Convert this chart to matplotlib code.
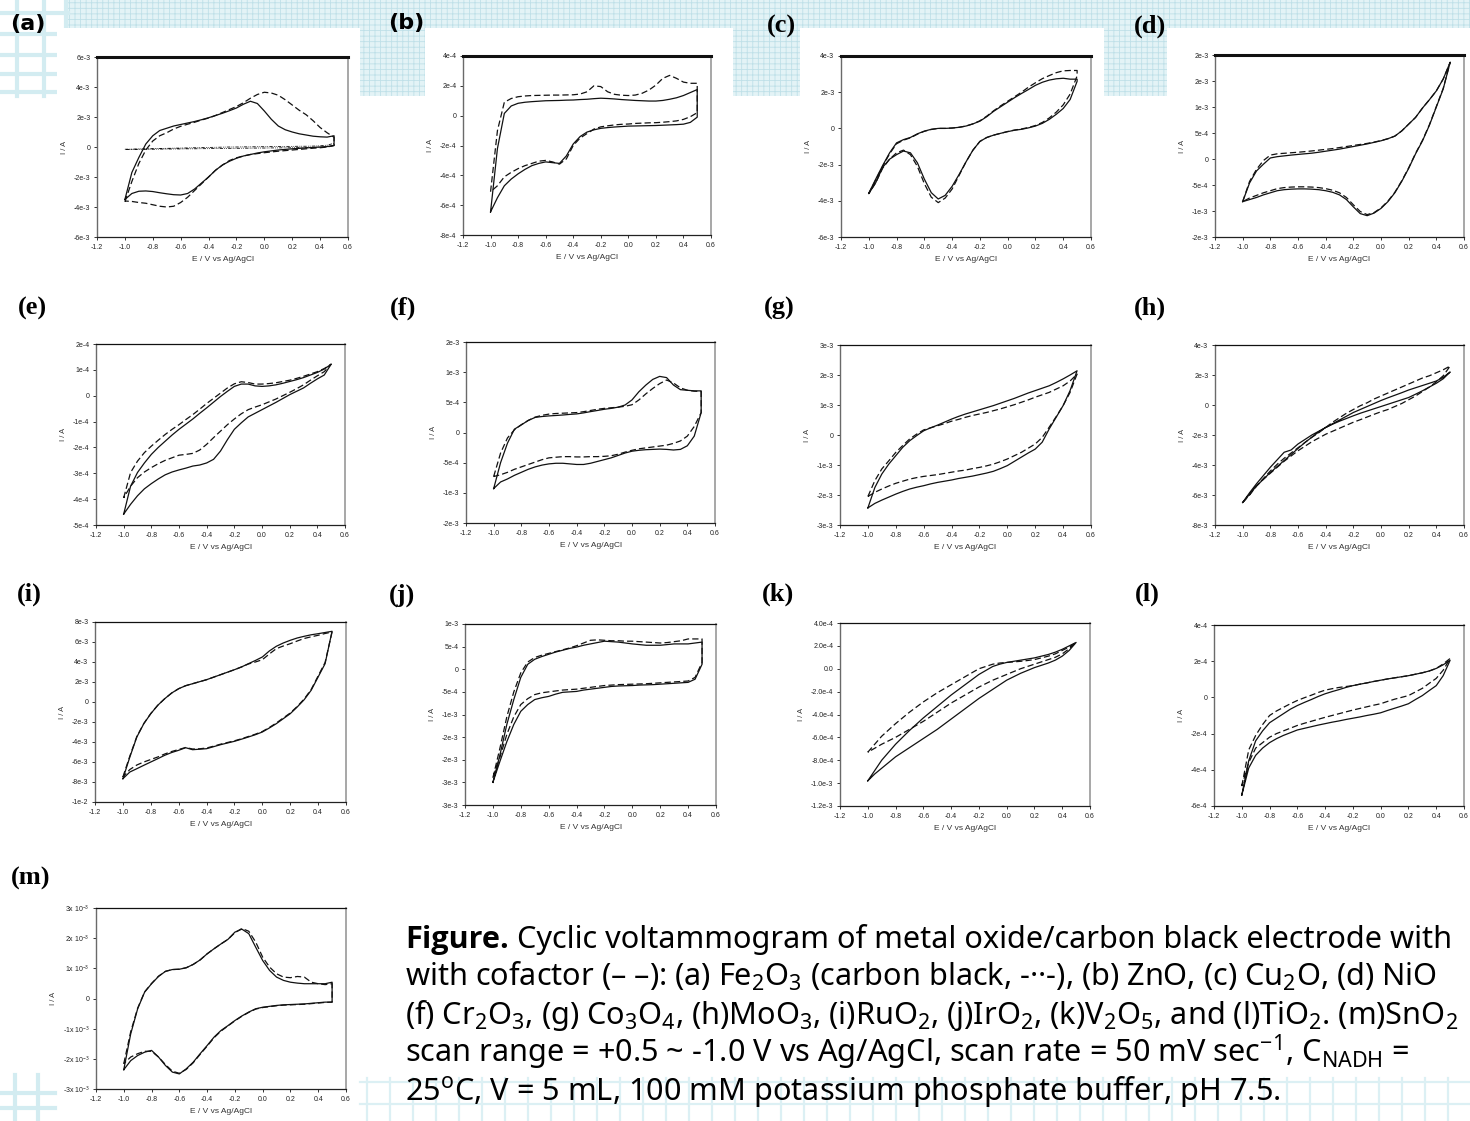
import matplotlib
matplotlib.use('Agg')
import matplotlib.pyplot as plt
from matplotlib.patches import Rectangle

plt.rcParams['font.family'] = ['Liberation Sans', 'DejaVu Sans']
plt.rcParams['mathtext.fontset'] = 'custom'
plt.rcParams['mathtext.rm'] = 'Noto Sans'
plt.rcParams['mathtext.it'] = 'Noto Sans:italic'
plt.rcParams['mathtext.bf'] = 'Noto Sans:bold'
plt.rcParams['hatch.linewidth'] = 0.6

W, H = 1470, 1121

# potential grid (V vs Ag/AgCl), forward scan -1.0 -> 0.5, reverse read on same grid
E = [-1.0, -0.95, -0.9, -0.85, -0.8, -0.75, -0.7, -0.65, -0.6, -0.55, -0.5,
     -0.45, -0.4, -0.35, -0.3, -0.25, -0.2, -0.15, -0.1, -0.05, 0.0,
     0.05, 0.1, 0.15, 0.2, 0.25, 0.3, 0.35, 0.4, 0.45, 0.5]
X_TICKS = [-1.2, -1.0, -0.8, -0.6, -0.4, -0.2, 0.0, 0.2, 0.4, 0.6]
X_LABELS = ['-1.2', '-1.0', '-0.8', '-0.6', '-0.4', '-0.2', '0.0', '0.2', '0.4', '0.6']

# (a) Fe2O3, units 1e-3 A
A_SOLID_FWD = [-3.5, -1.7, -0.7, 0.2, 0.75, 1.1, 1.25, 1.4, 1.5, 1.6, 1.7, 1.82, 1.95, 2.1, 2.25, 2.42,
               2.6, 2.85, 3.05, 2.9, 2.4, 1.85, 1.4, 1.15, 1.0, 0.88, 0.8, 0.72, 0.68, 0.66, 0.75]
A_SOLID_REV = [-3.5, -3.1, -2.95, -2.93, -2.97, -3.05, -3.12, -3.18, -3.2, -3.1, -2.8, -2.4, -2.0, -1.55,
               -1.2, -0.95, -0.75, -0.6, -0.5, -0.4, -0.32, -0.26, -0.2, -0.16, -0.12, -0.09, -0.06,
               -0.03, 0.0, 0.03, 0.1]
A_DASH_FWD = [-3.65, -2.3, -1.1, -0.2, 0.4, 0.75, 0.95, 1.2, 1.38, 1.52, 1.65, 1.8, 1.93, 2.1, 2.3, 2.5,
              2.7, 2.95, 3.25, 3.5, 3.65, 3.6, 3.45, 3.15, 2.8, 2.45, 2.15, 1.75, 1.3, 0.95, 0.65]
A_DASH_REV = [-3.6, -3.63, -3.7, -3.75, -3.85, -3.95, -4.0, -3.95, -3.7, -3.35, -2.9, -2.45, -2.0, -1.55,
              -1.2, -0.9, -0.72, -0.6, -0.5, -0.44, -0.38, -0.33, -0.28, -0.24, -0.2, -0.16, -0.12,
              -0.08, -0.05, 0.0, 0.1]
A_CB_FWD = [-0.15, -0.14, -0.13, -0.12, -0.11, -0.1, -0.09, -0.08, -0.07, -0.06, -0.05, -0.04, -0.03,
            -0.02, -0.01, 0.0, 0.0, 0.01, 0.01, 0.02, 0.02, 0.03, 0.03, 0.04, 0.04, 0.05, 0.05, 0.06,
            0.08, 0.12, 0.25]
A_CB_REV = [-0.16, -0.16, -0.15, -0.15, -0.15, -0.14, -0.14, -0.13, -0.13, -0.12, -0.12, -0.11, -0.11,
            -0.1, -0.1, -0.09, -0.09, -0.08, -0.08, -0.07, -0.07, -0.06, -0.06, -0.05, -0.05, -0.04,
            -0.04, -0.03, -0.02, 0.0, 0.1]

# (b) ZnO, units 1e-4 A
B_SOLID_FWD = [-6.45, -2.2, 0.15, 0.65, 0.83, 0.9, 0.94, 0.97, 1.0, 1.01, 1.02, 1.04, 1.05, 1.08, 1.1,
               1.14, 1.17, 1.15, 1.12, 1.08, 1.05, 1.02, 1.0, 0.98, 0.98, 1.02, 1.1, 1.2, 1.35, 1.55, 1.75]
B_SOLID_REV = [-6.45, -5.5, -4.7, -4.25, -3.9, -3.6, -3.35, -3.2, -3.1, -3.15, -3.2, -2.7, -1.9, -1.4,
               -1.1, -0.95, -0.85, -0.8, -0.76, -0.73, -0.7, -0.69, -0.68, -0.67, -0.66, -0.64, -0.62,
               -0.6, -0.57, -0.45, -0.1]
B_DASH_FWD = [-5.1, -1.0, 0.9, 1.15, 1.27, 1.32, 1.35, 1.36, 1.37, 1.38, 1.38, 1.39, 1.4, 1.45, 1.6, 2.0,
              1.95, 1.6, 1.43, 1.37, 1.35, 1.38, 1.5, 1.72, 2.05, 2.5, 2.7, 2.5, 2.25, 2.17, 2.17]
B_DASH_REV = [-5.1, -4.7, -4.1, -3.8, -3.55, -3.35, -3.2, -3.05, -3.0, -3.1, -3.25, -2.9, -2.0, -1.5,
              -1.2, -0.9, -0.75, -0.68, -0.62, -0.58, -0.56, -0.52, -0.5, -0.48, -0.47, -0.44, -0.4,
              -0.35, -0.25, -0.07, 0.2]

# (c) Cu2O, units 1e-3 A
C_SOLID_FWD = [-3.58, -2.8, -2.05, -1.35, -0.8, -0.62, -0.5, -0.3, -0.15, -0.05, 0.0, 0.0, 0.02, 0.06,
               0.13, 0.25, 0.4, 0.65, 0.95, 1.2, 1.45, 1.7, 1.93, 2.15, 2.38, 2.55, 2.67, 2.74, 2.77,
               2.72, 2.72]
C_SOLID_REV = [-3.6, -3.0, -2.15, -1.7, -1.45, -1.25, -1.35, -1.9, -2.8, -3.55, -3.9, -3.7, -3.2, -2.55,
               -1.85, -1.2, -0.72, -0.5, -0.37, -0.27, -0.18, -0.1, -0.05, 0.03, 0.13, 0.28, 0.5, 0.78,
               1.1, 1.6, 2.6]
C_DASH_FWD = [-3.6, -2.85, -2.1, -1.4, -0.85, -0.65, -0.52, -0.32, -0.16, -0.06, 0.0, 0.0, 0.02, 0.06,
              0.13, 0.25, 0.42, 0.68, 0.98, 1.25, 1.5, 1.75, 2.0, 2.28, 2.52, 2.75, 2.92, 3.08, 3.18,
              3.2, 3.2]
C_DASH_REV = [-3.6, -3.0, -2.2, -1.7, -1.35, -1.2, -1.45, -2.1, -3.05, -3.8, -4.1, -3.85, -3.35, -2.6,
              -1.85, -1.2, -0.72, -0.5, -0.37, -0.27, -0.17, -0.09, -0.03, 0.05, 0.16, 0.33, 0.58, 0.9,
              1.3, 1.9, 2.9]

# (d) NiO, units 1e-4 A
D_SOLID_FWD = [-8.2, -4.6, -2.3, -1.0, 0.2, 0.45, 0.6, 0.75, 0.88, 1.0, 1.12, 1.3, 1.5, 1.7, 1.9, 2.15,
               2.4, 2.65, 2.9, 3.2, 3.5, 3.9, 4.4, 5.4, 6.7, 8.0, 9.8, 11.4, 13.1, 15.4, 18.6]
D_SOLID_REV = [-8.2, -7.8, -7.4, -6.9, -6.5, -6.1, -5.9, -5.8, -5.75, -5.75, -5.8, -5.9, -6.1, -6.4,
               -6.9, -7.8, -9.2, -10.5, -10.9, -10.4, -9.5, -8.2, -6.5, -4.3, -1.8, 1.0, 3.5, 6.5, 10.0,
               13.5, 18.6]
D_DASH_FWD = [-8.2, -4.3, -2.0, -0.3, 0.75, 1.0, 1.1, 1.2, 1.3, 1.42, 1.55, 1.7, 1.85, 2.0, 2.2, 2.4,
              2.6, 2.8, 3.0, 3.25, 3.55, 3.9, 4.4, 5.4, 6.7, 8.0, 9.8, 11.4, 13.1, 15.4, 18.6]
D_DASH_REV = [-8.2, -7.5, -7.0, -6.5, -6.1, -5.7, -5.5, -5.4, -5.35, -5.35, -5.4, -5.5, -5.7, -6.0,
              -6.5, -7.4, -8.8, -10.1, -10.7, -10.3, -9.4, -8.1, -6.4, -4.2, -1.7, 1.1, 3.6, 6.6, 10.1,
              13.6, 18.6]

# (e) units 1e-4 A
E_SOLID_FWD = [-4.58, -3.5, -2.97, -2.6, -2.27, -2.0, -1.76, -1.52, -1.3, -1.1, -0.9, -0.68, -0.47,
               -0.25, -0.03, 0.17, 0.36, 0.45, 0.45, 0.38, 0.36, 0.38, 0.42, 0.48, 0.55, 0.62, 0.7,
               0.8, 0.9, 1.03, 1.22]
E_SOLID_REV = [-4.58, -4.2, -3.87, -3.6, -3.4, -3.22, -3.06, -2.95, -2.87, -2.8, -2.72, -2.68, -2.6,
               -2.46, -2.14, -1.7, -1.3, -1.05, -0.82, -0.68, -0.54, -0.4, -0.26, -0.11, 0.04, 0.17,
               0.3, 0.48, 0.65, 0.8, 1.22]
E_DASH_FWD = [-3.95, -2.97, -2.53, -2.2, -1.95, -1.72, -1.5, -1.3, -1.12, -0.92, -0.73, -0.52, -0.3,
              -0.1, 0.1, 0.3, 0.46, 0.54, 0.51, 0.45, 0.45, 0.47, 0.5, 0.55, 0.6, 0.67, 0.75, 0.84,
              0.93, 1.05, 1.22]
E_DASH_REV = [-3.95, -3.5, -3.17, -2.95, -2.78, -2.63, -2.5, -2.4, -2.3, -2.27, -2.23, -2.1, -1.88,
              -1.62, -1.37, -1.12, -0.9, -0.7, -0.54, -0.44, -0.35, -0.24, -0.13, 0.0, 0.13, 0.27,
              0.42, 0.6, 0.77, 0.93, 1.22]

# (f) Cr2O3, units 1e-4 A
F_SOLID_FWD = [-9.3, -5.0, -1.76, 0.55, 1.26, 2.0, 2.5, 2.65, 2.75, 2.82, 2.9, 3.0, 3.08, 3.25, 3.46,
               3.65, 3.85, 4.0, 4.2, 4.56, 5.4, 6.76, 7.86, 8.8, 9.3, 9.1, 7.86, 7.1, 7.0, 6.9, 6.9]
F_SOLID_REV = [-9.3, -8.2, -7.7, -7.1, -6.6, -6.1, -5.7, -5.4, -5.2, -5.1, -5.1, -5.2, -5.3, -5.3, -5.1,
               -4.8, -4.5, -4.2, -3.8, -3.4, -3.1, -2.95, -2.85, -2.8, -2.75, -2.8, -2.9, -2.8, -2.2,
               -0.6, 3.3]
F_DASH_FWD = [-7.3, -3.4, -0.9, 0.45, 1.3, 2.0, 2.55, 2.85, 3.05, 3.15, 3.2, 3.25, 3.3, 3.45, 3.65,
              3.85, 4.0, 4.1, 4.2, 4.35, 4.6, 5.4, 6.4, 7.3, 8.1, 8.7, 8.2, 7.4, 7.0, 6.85, 6.8]
F_DASH_REV = [-7.3, -7.0, -6.6, -6.1, -5.7, -5.3, -4.9, -4.5, -4.2, -4.1, -4.0, -4.0, -4.05, -4.05,
              -4.0, -4.0, -3.95, -3.85, -3.6, -3.25, -2.95, -2.7, -2.55, -2.4, -2.25, -2.1, -1.8,
              -1.4, -0.6, 1.0, 3.3]

# (g) Co3O4, units 1e-3 A
G_SOLID_FWD = [-2.43, -1.75, -1.3, -0.97, -0.69, -0.41, -0.19, -0.02, 0.14, 0.24, 0.33, 0.43, 0.53,
               0.62, 0.7, 0.77, 0.84, 0.91, 0.98, 1.06, 1.14, 1.22, 1.31, 1.4, 1.48, 1.56, 1.64, 1.75,
               1.87, 2.0, 2.14]
G_SOLID_REV = [-2.43, -2.28, -2.17, -2.07, -1.97, -1.88, -1.8, -1.74, -1.69, -1.63, -1.58, -1.54, -1.5,
               -1.45, -1.41, -1.37, -1.32, -1.27, -1.21, -1.12, -1.02, -0.88, -0.74, -0.6, -0.47,
               -0.24, 0.2, 0.59, 0.98, 1.48, 2.14]
G_DASH_FWD = [-2.05, -1.52, -1.13, -0.86, -0.58, -0.35, -0.13, 0.03, 0.17, 0.24, 0.31, 0.38, 0.46,
              0.52, 0.59, 0.65, 0.7, 0.75, 0.81, 0.87, 0.94, 1.01, 1.09, 1.17, 1.26, 1.34, 1.42, 1.53,
              1.64, 1.8, 2.03]
G_DASH_REV = [-2.05, -1.91, -1.8, -1.7, -1.61, -1.54, -1.47, -1.42, -1.38, -1.35, -1.32, -1.28, -1.24,
              -1.2, -1.17, -1.12, -1.08, -1.03, -0.97, -0.89, -0.8, -0.69, -0.58, -0.44, -0.3, -0.08,
              0.26, 0.61, 0.98, 1.42, 2.03]

# (h) MoO3, units 1e-3 A
H_SOLID_FWD = [-6.5, -5.85, -5.25, -4.7, -4.15, -3.65, -3.15, -3.0, -2.6, -2.3, -2.0, -1.75, -1.5, -1.25,
               -1.0, -0.75, -0.5, -0.3, -0.1, 0.1, 0.3, 0.48, 0.65, 0.82, 1.0, 1.15, 1.3, 1.45, 1.6,
               1.85, 2.2]
H_SOLID_REV = [-6.5, -5.95, -5.4, -4.95, -4.5, -4.1, -3.7, -3.3, -2.9, -2.5, -2.15, -1.8, -1.5, -1.28,
               -1.08, -0.9, -0.72, -0.55, -0.4, -0.25, -0.1, 0.05, 0.2, 0.35, 0.5, 0.72, 0.95, 1.2,
               1.45, 1.75, 2.2]
H_DASH_FWD = [-6.5, -6.0, -5.4, -4.9, -4.4, -3.95, -3.55, -3.2, -2.85, -2.5, -2.15, -1.85, -1.5, -1.15,
              -0.85, -0.55, -0.3, -0.05, 0.15, 0.4, 0.6, 0.8, 1.0, 1.2, 1.4, 1.6, 1.8, 1.95, 2.15,
              2.35, 2.6]
H_DASH_REV = [-6.5, -5.95, -5.4, -4.95, -4.55, -4.15, -3.75, -3.4, -3.05, -2.75, -2.45, -2.2, -1.95,
              -1.75, -1.55, -1.35, -1.15, -0.98, -0.8, -0.62, -0.45, -0.3, -0.1, 0.1, 0.35, 0.6, 0.9,
              1.2, 1.55, 1.95, 2.6]

# (i) RuO2, units 1e-3 A
I_SOLID_FWD = [-7.67, -5.5, -3.5, -2.17, -1.17, -0.33, 0.33, 0.9, 1.33, 1.63, 1.83, 2.03, 2.23, 2.48,
               2.73, 2.98, 3.23, 3.5, 3.83, 4.15, 4.5, 5.1, 5.57, 5.9, 6.17, 6.4, 6.57, 6.72, 6.83,
               6.95, 7.07]
I_SOLID_REV = [-7.67, -7.0, -6.67, -6.33, -6.0, -5.67, -5.33, -5.05, -4.83, -4.57, -4.77, -4.72, -4.67,
               -4.47, -4.27, -4.1, -3.93, -3.72, -3.5, -3.27, -3.0, -2.6, -2.17, -1.67, -1.17, -0.5,
               0.23, 1.17, 2.5, 3.83, 7.07]
I_DASH_FWD = [-7.5, -5.4, -3.45, -2.15, -1.15, -0.33, 0.33, 0.9, 1.33, 1.63, 1.83, 2.03, 2.23, 2.48,
              2.73, 2.98, 3.23, 3.5, 3.8, 4.0, 4.23, 4.8, 5.33, 5.6, 5.83, 6.1, 6.35, 6.52, 6.67,
              6.85, 7.0]
I_DASH_REV = [-7.5, -6.75, -6.3, -6.0, -5.75, -5.5, -5.2, -4.95, -4.75, -4.55, -4.7, -4.68, -4.6,
              -4.42, -4.22, -4.05, -3.88, -3.68, -3.45, -3.22, -2.95, -2.55, -2.1, -1.6, -1.1, -0.45,
              0.3, 1.25, 2.6, 3.95, 7.0]

# (j) IrO2, units 1e-4 A
J_SOLID_FWD = [-25, -19, -12.2, -6.7, -1.8, 1.1, 2.2, 2.8, 3.3, 3.8, 4.2, 4.6, 4.9, 5.3, 5.6, 5.9, 6.2,
               6.1, 6.0, 5.8, 5.6, 5.45, 5.3, 5.3, 5.3, 5.45, 5.6, 5.6, 5.6, 5.8, 6.0]
J_SOLID_REV = [-25, -20.4, -16, -12.2, -9.3, -7.8, -6.7, -6.3, -6.0, -5.5, -5.1, -5.0, -4.9, -4.6, -4.4,
               -4.2, -4.0, -3.8, -3.7, -3.65, -3.6, -3.5, -3.45, -3.4, -3.3, -3.2, -3.1, -3.0, -2.9,
               -2.2, 1.1]
J_DASH_FWD = [-24, -17.5, -10.5, -5.0, -0.8, 1.6, 2.6, 3.1, 3.5, 3.9, 4.3, 4.7, 5.2, 5.8, 6.4, 6.5, 6.4,
              6.3, 6.3, 6.2, 6.2, 6.1, 6.0, 5.9, 5.8, 5.9, 6.1, 6.3, 6.7, 6.7, 6.7]
J_DASH_REV = [-24, -19.5, -14.4, -10.5, -7.8, -6.5, -5.6, -5.2, -5.0, -4.8, -4.6, -4.5, -4.4, -4.2, -4.0,
              -3.8, -3.6, -3.5, -3.4, -3.35, -3.3, -3.25, -3.2, -3.1, -3.0, -2.9, -2.8, -2.7, -2.6,
              -1.8, 1.5]

# (k) V2O5, units 1e-4 A
K_SOLID_FWD = [-9.8, -8.9, -8.0, -7.3, -6.6, -6.0, -5.4, -4.85, -4.3, -3.8, -3.3, -2.8, -2.3, -1.85,
               -1.4, -0.95, -0.5, -0.15, 0.2, 0.4, 0.55, 0.65, 0.75, 0.85, 0.95, 1.1, 1.25, 1.45, 1.7,
               2.0, 2.3]
K_SOLID_REV = [-9.8, -9.2, -8.7, -8.2, -7.7, -7.3, -6.9, -6.5, -6.1, -5.7, -5.3, -4.85, -4.4, -3.95,
               -3.5, -3.05, -2.6, -2.2, -1.8, -1.4, -1.0, -0.7, -0.4, -0.15, 0.1, 0.3, 0.5, 0.75, 1.1,
               1.6, 2.3]
K_DASH_FWD = [-7.3, -6.6, -5.9, -5.35, -4.8, -4.3, -3.8, -3.35, -2.9, -2.5, -2.1, -1.75, -1.4, -1.05,
              -0.7, -0.35, 0.0, 0.2, 0.4, 0.5, 0.55, 0.6, 0.65, 0.72, 0.8, 0.95, 1.1, 1.3, 1.6, 1.9, 2.3]
K_DASH_REV = [-7.3, -6.95, -6.6, -6.3, -6.0, -5.65, -5.3, -4.95, -4.6, -4.2, -3.8, -3.4, -3.0, -2.65,
              -2.3, -1.95, -1.6, -1.3, -1.0, -0.75, -0.5, -0.25, 0.0, 0.2, 0.4, 0.6, 0.8, 1.0, 1.3,
              1.75, 2.3]

# (l) TiO2, units 1e-4 A
L_SOLID_FWD = [-5.4, -3.5, -2.4, -1.85, -1.4, -1.15, -0.9, -0.65, -0.45, -0.28, -0.12, 0.05, 0.2, 0.32,
               0.43, 0.55, 0.65, 0.73, 0.8, 0.88, 0.95, 1.02, 1.08, 1.14, 1.2, 1.28, 1.36, 1.46, 1.6,
               1.8, 2.05]
L_SOLID_REV = [-5.4, -3.9, -3.2, -2.8, -2.5, -2.28, -2.1, -1.95, -1.8, -1.71, -1.62, -1.53, -1.45,
               -1.37, -1.3, -1.22, -1.15, -1.08, -1.0, -0.93, -0.85, -0.72, -0.6, -0.48, -0.35, -0.12,
               0.1, 0.38, 0.65, 1.2, 2.05]
L_DASH_FWD = [-4.9, -2.9, -2.1, -1.5, -1.0, -0.75, -0.55, -0.35, -0.17, -0.02, 0.12, 0.27, 0.4, 0.48,
              0.55, 0.6, 0.65, 0.73, 0.8, 0.88, 0.95, 1.02, 1.08, 1.14, 1.2, 1.28, 1.36, 1.46, 1.6,
              1.85, 2.15]
L_DASH_REV = [-4.9, -3.6, -2.8, -2.5, -2.2, -2.0, -1.85, -1.7, -1.55, -1.43, -1.32, -1.21, -1.1, -1.0,
              -0.9, -0.8, -0.7, -0.61, -0.52, -0.43, -0.35, -0.22, -0.1, 0.0, 0.1, 0.3, 0.5, 0.78,
              1.05, 1.5, 2.15]

# (m) SnO2, units 1e-3 A
M_SOLID_FWD = [-2.36, -1.17, -0.34, 0.21, 0.49, 0.73, 0.9, 0.96, 0.97, 1.02, 1.13, 1.28, 1.48, 1.65,
               1.81, 1.96, 2.2, 2.3, 2.15, 1.7, 1.26, 0.93, 0.71, 0.6, 0.54, 0.51, 0.49, 0.49, 0.49,
               0.49, 0.54]
M_SOLID_REV = [-2.36, -2.06, -1.89, -1.78, -1.72, -1.94, -2.22, -2.44, -2.5, -2.33, -2.11, -1.83, -1.56,
               -1.28, -1.06, -0.9, -0.73, -0.58, -0.45, -0.34, -0.29, -0.26, -0.23, -0.21, -0.2,
               -0.19, -0.18, -0.16, -0.14, -0.12, -0.12]
M_DASH_FWD = [-2.16, -1.1, -0.32, 0.22, 0.5, 0.74, 0.9, 0.96, 0.97, 1.02, 1.13, 1.28, 1.48, 1.65, 1.81,
              1.96, 2.18, 2.32, 2.23, 1.87, 1.37, 1.04, 0.82, 0.71, 0.69, 0.73, 0.71, 0.54, 0.49,
              0.46, 0.49]
M_DASH_REV = [-2.16, -1.94, -1.83, -1.75, -1.75, -1.94, -2.19, -2.41, -2.48, -2.35, -2.13, -1.85,
              -1.58, -1.3, -1.08, -0.91, -0.74, -0.59, -0.46, -0.35, -0.3, -0.27, -0.24, -0.22, -0.21,
              -0.2, -0.19, -0.17, -0.15, -0.13, -0.12]

# y ticks (in panel units) and the labels printed on them
A_YT = [-6, -4, -2, 0, 2, 4, 6]
A_YL = ['-6e-3', '-4e-3', '-2e-3', '0', '2e-3', '4e-3', '6e-3']
B_YT = [-8, -6, -4, -2, 0, 2, 4]
B_YL = ['-8e-4', '-6e-4', '-4e-4', '-2e-4', '0', '2e-4', '4e-4']
C_YT = [-6, -4, -2, 0, 2, 4]
C_YL = ['-6e-3', '-4e-3', '-2e-3', '0', '2e-3', '4e-3']
D_YT = [-15, -10, -5, 0, 5, 10, 15, 20]
D_YL = ['-2e-3', '-1e-3', '-5e-4', '0', '5e-4', '1e-3', '2e-3', '2e-3']
E_YT = [-5, -4, -3, -2, -1, 0, 1, 2]
E_YL = ['-5e-4', '-4e-4', '-3e-4', '-2e-4', '-1e-4', '0', '1e-4', '2e-4']
F_YT = [-15, -10, -5, 0, 5, 10, 15]
F_YL = ['-2e-3', '-1e-3', '-5e-4', '0', '5e-4', '1e-3', '2e-3']
G_YT = [-3, -2, -1, 0, 1, 2, 3]
G_YL = ['-3e-3', '-2e-3', '-1e-3', '0', '1e-3', '2e-3', '3e-3']
H_YT = [-8, -6, -4, -2, 0, 2, 4]
H_YL = ['-8e-3', '-6e-3', '-4e-3', '-2e-3', '0', '2e-3', '4e-3']
I_YT = [-10, -8, -6, -4, -2, 0, 2, 4, 6, 8]
I_YL = ['-1e-2', '-8e-3', '-6e-3', '-4e-3', '-2e-3', '0', '2e-3', '4e-3', '6e-3', '8e-3']
J_YT = [-30, -25, -20, -15, -10, -5, 0, 5, 10]
J_YL = ['-3e-3', '-3e-3', '-2e-3', '-2e-3', '-1e-3', '-5e-4', '0', '5e-4', '1e-3']
K_YT = [-12, -10, -8, -6, -4, -2, 0, 2, 4]
K_YL = ['-1.2e-3', '-1.0e-3', '-8.0e-4', '-6.0e-4', '-4.0e-4', '-2.0e-4', '0.0', '2.0e-4', '4.0e-4']
L_YT = [-6, -4, -2, 0, 2, 4]
L_YL = ['-6e-4', '-4e-4', '-2e-4', '0', '2e-4', '4e-4']
M_YT = [-3, -2, -1, 0, 1, 2, 3]
M_YL = ['-3x 10$^{-3}$', '-2x 10$^{-3}$', '-1x 10$^{-3}$', '0',
        '1x 10$^{-3}$', '2x 10$^{-3}$', '3x 10$^{-3}$']

# letter, pixel box (left, top, right, bottom), ticks, labels, curves
PANELS = [
    ('a', (97, 57, 348, 237), A_YT, A_YL,
     [(A_SOLID_FWD, A_SOLID_REV, 'solid'), (A_DASH_FWD, A_DASH_REV, 'dash'), (A_CB_FWD, A_CB_REV, 'cb')]),
    ('b', (463, 56, 711, 235), B_YT, B_YL, [(B_SOLID_FWD, B_SOLID_REV, 'solid'), (B_DASH_FWD, B_DASH_REV, 'dash')]),
    ('c', (841, 56, 1091, 237), C_YT, C_YL, [(C_SOLID_FWD, C_SOLID_REV, 'solid'), (C_DASH_FWD, C_DASH_REV, 'dash')]),
    ('d', (1215, 55, 1464, 237), D_YT, D_YL, [(D_SOLID_FWD, D_SOLID_REV, 'solid'), (D_DASH_FWD, D_DASH_REV, 'dash')]),
    ('e', (96, 344, 345, 525), E_YT, E_YL, [(E_SOLID_FWD, E_SOLID_REV, 'solid'), (E_DASH_FWD, E_DASH_REV, 'dash')]),
    ('f', (466, 342, 715, 523), F_YT, F_YL, [(F_SOLID_FWD, F_SOLID_REV, 'solid'), (F_DASH_FWD, F_DASH_REV, 'dash')]),
    ('g', (840, 345, 1091, 525), G_YT, G_YL, [(G_SOLID_FWD, G_SOLID_REV, 'solid'), (G_DASH_FWD, G_DASH_REV, 'dash')]),
    ('h', (1215, 345, 1464, 525), H_YT, H_YL, [(H_SOLID_FWD, H_SOLID_REV, 'solid'), (H_DASH_FWD, H_DASH_REV, 'dash')]),
    ('i', (95, 622, 346, 802), I_YT, I_YL, [(I_SOLID_FWD, I_SOLID_REV, 'solid'), (I_DASH_FWD, I_DASH_REV, 'dash')]),
    ('j', (465, 624, 716, 805), J_YT, J_YL, [(J_SOLID_FWD, J_SOLID_REV, 'solid'), (J_DASH_FWD, J_DASH_REV, 'dash')]),
    ('k', (840, 623, 1090, 806), K_YT, K_YL, [(K_SOLID_FWD, K_SOLID_REV, 'solid'), (K_DASH_FWD, K_DASH_REV, 'dash')]),
    ('l', (1214, 625, 1464, 806), L_YT, L_YL, [(L_SOLID_FWD, L_SOLID_REV, 'solid'), (L_DASH_FWD, L_DASH_REV, 'dash')]),
    ('m', (96, 908, 346, 1089), M_YT, M_YL, [(M_SOLID_FWD, M_SOLID_REV, 'solid'), (M_DASH_FWD, M_DASH_REV, 'dash')]),
]

LABEL_POS = {'a': (28, 24), 'b': (406, 23), 'c': (781, 26), 'd': (1150, 26), 'e': (32, 308),
             'f': (403, 308), 'g': (779, 308), 'h': (1150, 308), 'i': (29, 594), 'j': (402, 595),
             'k': (778, 594), 'l': (1147, 594), 'm': (31, 878)}

STYLES = {'solid': dict(ls='-', lw=0.9),
          'dash': dict(ls=(0, (5, 2.5)), lw=0.9),
          'cb': dict(ls=(0, (4, 1.5, 1, 1.2, 1, 1.5)), lw=0.6)}

fig = plt.figure(figsize=(W / 100, H / 100), dpi=100)
fig.patch.set_facecolor('white')

# slide background: pale blue graph-paper bands
bg = fig.add_axes([0, 0, 1, 1])
bg.set_xlim(0, W)
bg.set_ylim(H, 0)
bg.axis('off')
GRID_C = '#d3ecf1'
bg.add_patch(Rectangle((68, 0), W - 68, 96, facecolor='#e3f3f6', edgecolor='#bfe0e8',
                       hatch='+++', lw=0, zorder=0))
for x in [17, 44, 66]:
    bg.plot([x, x], [0, 96], color=GRID_C, lw=3, zorder=0.5)
for y in [13, 34, 55, 74, 92]:
    bg.plot([0, 68], [y, y], color=GRID_C, lw=3, zorder=0.5)
for x0, x1 in [(57, 360), (425, 733), (800, 1104), (1167, W)]:
    bg.add_patch(Rectangle((x0, 28), x1 - x0, 80, facecolor='white', lw=0, zorder=1))
for x in [15, 38]:
    bg.plot([x, x], [1075, H], color=GRID_C, lw=3, zorder=0.5)
for y in [1093, 1108]:
    bg.plot([0, 55], [y, y], color=GRID_C, lw=3, zorder=0.5)
for x in range(367, W, 23):
    bg.plot([x, x], [1078, H], color='#dcf0f4', lw=1.6, zorder=0.5)
for y in [1082, 1104]:
    bg.plot([360, W], [y, y], color='#dcf0f4', lw=1.6, zorder=0.5)

for letter, (l, t, r, b), yt, yl, curves in PANELS:
    ax = fig.add_axes([l / W, 1 - b / H, (r - l) / W, (b - t) / H])
    ax.patch.set_alpha(0)
    for fwd, rev, kind in curves:
        xs = E + E[::-1]
        ys = fwd + rev[::-1]
        ax.plot(xs, ys, color='#111111', solid_joinstyle='round', **STYLES[kind])
    ax.set_xlim(-1.2, 0.6)
    ax.set_ylim(yt[0], yt[-1])
    ax.set_xticks(X_TICKS)
    ax.set_xticklabels(X_LABELS)
    ax.set_yticks(yt)
    ax.set_yticklabels(yl)
    ax.tick_params(direction='out', length=2.2, width=0.7, labelsize=5.0, pad=2.5,
                   colors='#333333', labelcolor='#222222')
    ax.spines['top'].set_color('#111111')
    ax.spines['top'].set_linewidth(2.2 if t < 100 else 0.9)
    ax.spines['right'].set_color('#a0a0a0')
    ax.spines['right'].set_linewidth(1.3)
    ax.spines['left'].set_color('#6a6a6a')
    ax.spines['left'].set_linewidth(1.0)
    ax.spines['bottom'].set_color('#222222')
    ax.spines['bottom'].set_linewidth(0.9)
    ax.set_xlabel('E / V vs Ag/AgCl', fontsize=6.0, labelpad=4, color='#333333')
    ax.set_ylabel('I / A', fontsize=5.4, labelpad=4, color='#333333')

    lx, ly = LABEL_POS[letter]
    if letter in 'ab':
        bg.text(lx, ly, '(%s)' % letter, fontsize=16, fontweight='heavy', ha='center', va='center',
                family=['DejaVu Sans'], zorder=5)
    else:
        bg.text(lx, ly, '(%s)' % letter, fontsize=19, fontweight='bold', ha='center', va='center',
                family=['Liberation Serif', 'DejaVu Serif'], zorder=5)

# caption
CAP = ['Cyclic voltammogram of metal oxide/carbon black electrode with',
       'with cofactor (\u2013 \u2013): (a) Fe$_2$O$_3$ (carbon black, -\u00b7\u00b7-), (b) ZnO, (c) Cu$_2$O, (d) NiO',
       '(f) Cr$_2$O$_3$, (g) Co$_3$O$_4$, (h)MoO$_3$, (i)RuO$_2$, (j)IrO$_2$, (k)V$_2$O$_5$, and (l)TiO$_2$. (m)SnO$_2$',
       'scan range = +0.5 ~ -1.0 V vs Ag/AgCl, scan rate = 50 mV sec$^{-1}$, C$_{\\mathrm{NADH}}$ =',
       '25$^{\\mathrm{o}}$C, V = 5 mL, 100 mM potassium phosphate buffer, pH 7.5.']
CAP_FS = 22.1
cap_font = ['Noto Sans', 'DejaVu Sans']
x0 = 405
baselines = [948, 986, 1024, 1062, 1100]
t0 = bg.text(x0, baselines[0], 'Figure.', fontsize=CAP_FS, fontweight='bold', ha='left',
             va='baseline', family=['Open Sans', 'DejaVu Sans'], zorder=5)
bg.annotate(' ' + CAP[0], xy=(1, 0), xycoords=t0, ha='left', va='bottom', fontsize=CAP_FS,
            family=cap_font, zorder=5, annotation_clip=False)
for line, yb in zip(CAP[1:], baselines[1:]):
    bg.text(x0, yb, line, fontsize=CAP_FS, ha='left', va='baseline', family=cap_font, zorder=5)

fig.savefig('out.png', dpi=100)
plt.close(fig)
